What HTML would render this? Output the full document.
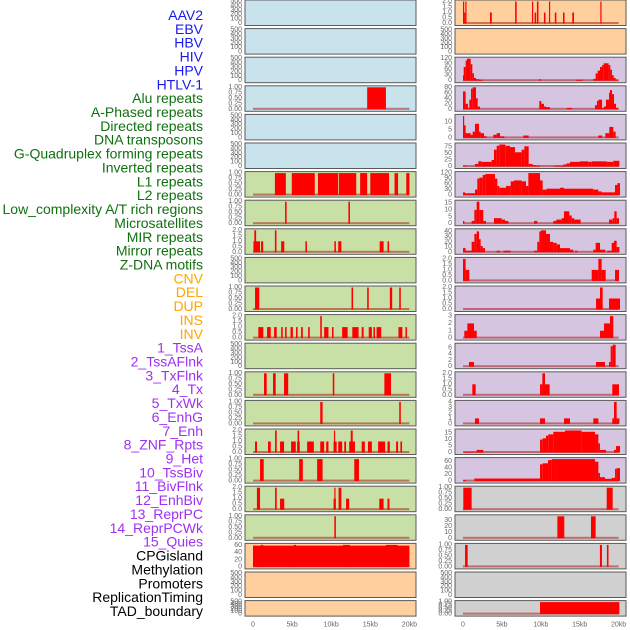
<!DOCTYPE html>
<html><head><meta charset="utf-8">
<style>
html,body{margin:0;padding:0;background:#fff;}
svg{display:block;}
text{font-family:"Liberation Sans",sans-serif;}
</style></head>
<body>
<svg id="chart" width="630" height="630" viewBox="0 0 630 630" xmlns="http://www.w3.org/2000/svg">
<g id="labels"></g>
<g id="panels"></g>
<g id="xaxis"></g>
</svg>
<script>
// ---- label data ----
const trackLabels = ["AAV2","EBV","HBV","HIV","HPV","HTLV-1","Alu repeats","A-Phased repeats","Directed repeats","DNA transposons","G-Quadruplex forming repeats","Inverted repeats","L1 repeats","L2 repeats","Low_complexity A/T rich regions","Microsatellites","MIR repeats","Mirror repeats","Z-DNA motifs","CNV","DEL","DUP","INS","INV","1_TssA","2_TssAFlnk","3_TxFlnk","4_Tx","5_TxWk","6_EnhG","7_Enh","8_ZNF_Rpts","9_Het","10_TssBiv","11_BivFlnk","12_EnhBiv","13_ReprPC","14_ReprPCWk","15_Quies","CPGisland","Methylation","Promoters","ReplicationTiming","TAD_boundary"];
const labelGroups = [6,13,5,15,5];
const groupColors = ["#1a1aee","#107010","#ffa500","#a030f0","#000000"];
const xTickValues = [0,5,10,15,20];
const xTickLabels = ["0","5kb","10kb","15kb","20kb"];

// ---- tick label sets ----
const ticksEmpty = ["0","100","200","300","400","500"];
const ticksUnit = ["0.00","0.25","0.50","0.75","1.00"];
const ticksTwo = ["0.0","0.5","1.0","1.5","2.0"];

// ---- left column data [startKb, endKb, value] ----
const L_alu = [[14.6,17.0,1]];
const L_inverted = [[2.8,4.2,1],[4.96,7.9,1],[8.3,10.9,1],[11.0,13.2,1],[13.7,14.6,1],[15.0,17.4,1],[18.1,18.55,1],[19.6,20.0,1]];
const L_l2 = [[4.1,4.3,1],[12.2,12.4,1]];
const L_microsat = [[0.05,0.9,1],[0.17,0.4,2],[1.03,1.3,1],[2.8,3.0,2],[3.6,4.0,1],[6.7,6.9,1],[10.4,10.6,1],[10.9,11.3,1],[16.2,16.7,1],[17.2,17.4,1]];
const L_cnv = [[0.26,0.8,1],[12.6,12.8,1],[14.6,14.8,1],[17.5,17.8,1],[18.7,18.9,1]];
const L_dup = [[0.68,1.32,1],[1.8,2.27,1],[2.7,3.03,1],[3.6,3.8,1],[4.1,4.3,1],[4.8,5.1,1],[5.5,5.7,1],[6.15,6.37,1],[7.05,7.26,1],[8.6,8.8,2],[9.1,9.65,1],[10.1,10.3,1],[11.4,12.1,1],[12.7,13.5,1],[13.9,14.15,1],[14.8,15.2,1],[15.4,15.6,1],[15.8,16.4,1],[18.6,19.1,1],[19.5,19.7,1]];
const L_tssAFlnk = [[1.41,1.75,1],[2.56,2.9,1],[3.97,4.5,1],[10.2,10.4,1],[16.8,17.65,1]];
const L_txFlnk = [[8.6,8.9,1],[18.7,18.9,1]];
const L_tx = [[0.26,0.51,1],[1.92,2.27,1],[2.82,3.03,2],[3.46,3.97,1],[4.87,5.47,1],[5.64,5.98,1],[5.7,5.9,2],[6.92,7.78,1],[8.6,9.1,1],[9.36,9.65,1],[10.3,10.7,1],[10.35,10.5,2],[10.9,11.4,1],[11.67,11.9,1],[12.3,13.04,1],[12.5,12.75,2],[13.9,14.3,1],[14.7,15.2,1],[16.0,16.9,1],[17.2,17.5,1],[18.3,18.55,1],[18.85,19.06,1]];
const L_txWk = [[0.9,1.37,1],[5.9,6.37,1],[8.2,8.9,1],[12.95,13.55,1]];
const L_enhG = [[0.5,0.9,2],[2.82,3.03,2],[3.46,4.0,1],[10.3,10.6,1],[10.4,10.55,2],[10.94,11.3,2],[11.9,12.3,1],[16.15,16.7,1],[17.2,17.45,1]];
const L_enh = [[10.4,10.6,1]];
const L_cpg = [[0,20,60],[1.0,1.3,62],[5.2,5.5,62],[11.5,12.4,62],[17.0,18.5,62]];

// ---- right column data ----
const R_aav2 = [[0,0.15,2],[0.15,0.3,1],[0.3,0.4,2],[3.47,3.7,1],[6.7,6.9,2],[8.87,9.0,2],[9.2,9.4,1],[9.5,9.7,2],[10.4,10.6,1],[11.05,11.2,2],[11.8,12.0,1],[12.85,13.05,1],[14.05,14.27,1],[17.65,17.8,2]];
const R_hiv = [[0,0.09,30],[0.09,0.34,75],[0.34,0.51,110],[0.51,0.99,120],[0.99,1.2,90],[1.2,1.41,40],[1.41,1.67,15],[1.67,2.1,8],[2.1,2.53,5],[9.81,10.07,8],[14.52,15.38,5],[16.75,17.05,10],[17.05,17.31,40],[17.31,17.61,55],[17.61,17.87,75],[17.87,18.08,85],[18.08,18.72,95],[18.72,18.94,85],[18.94,19.15,60],[19.15,19.37,30],[19.37,19.62,15],[19.62,19.97,5]];
const R_alu = [[0,0.34,65],[0.34,0.64,20],[0.64,0.81,5],[0.81,1.03,35],[1.03,1.24,75],[1.24,1.67,80],[1.67,1.89,40],[1.89,2.19,10],[9.81,10.07,30],[10.07,10.41,20],[10.41,10.67,10],[10.67,11.18,8],[13.33,14.01,5],[16.97,17.22,15],[17.22,17.4,30],[17.4,17.87,35],[17.87,18.12,5],[18.12,18.38,10],[18.38,18.77,35],[18.77,18.89,60],[18.89,19.15,70],[19.15,19.41,55],[19.41,19.67,20],[19.67,19.97,5]];
const R_directed = [[0,0.09,14],[0.09,0.34,8],[0.34,0.99,3],[0.99,1.24,2],[1.24,1.54,4],[1.54,2.06,9],[2.06,2.27,4],[2.27,2.7,3],[2.7,3.04,1],[3.9,4.33,2],[4.33,4.76,3],[4.76,5.31,1],[7.75,8.44,1.5],[17.4,17.87,1.5],[18.3,18.81,3],[18.81,19.32,7],[19.32,19.62,4]];
const R_gquad = [[0,0.4,3],[1.54,1.97,10],[1.97,2.4,20],[2.4,3.68,18],[3.68,3.98,25],[3.98,4.33,65],[4.33,4.67,80],[4.67,5.44,85],[5.44,6.04,80],[6.04,6.68,75],[6.68,7.54,55],[7.54,7.88,65],[7.88,8.44,78],[8.44,8.95,10],[8.95,9.38,5],[9.38,9.9,3],[11.74,12.9,3],[12.9,13.33,8],[13.33,13.75,12],[13.75,15.04,18],[15.04,16.11,20],[16.11,16.54,18],[16.54,18.47,20],[18.47,19.32,18],[19.32,20.1,22]];
const R_l1 = [[0,0.26,15],[0.26,1.54,10],[1.54,1.84,30],[1.84,2.1,90],[2.1,2.53,95],[2.53,2.87,110],[2.87,4.11,115],[4.11,4.41,90],[4.41,4.67,50],[4.67,5.53,40],[5.53,6.13,50],[6.13,6.56,75],[6.56,7.54,80],[7.54,8.1,75],[8.1,8.4,50],[8.4,9.9,120],[9.9,10.24,80],[10.24,10.75,30],[10.75,12.47,35],[12.47,12.98,40],[12.98,16.75,35],[16.75,17.4,30],[17.4,17.82,20],[17.82,19.54,15],[19.54,19.84,55],[19.84,20.18,65]];
const R_l2 = [[0,0.17,2],[1.11,1.46,2],[1.46,1.76,10],[1.76,2.1,16],[2.1,2.61,10],[2.61,2.96,2],[3.98,4.97,4],[4.97,5.4,3],[5.4,5.83,2],[9.13,9.55,2],[11.61,12.0,2],[12.0,12.68,3],[12.68,12.98,4],[12.98,13.67,9],[13.67,13.97,6],[13.97,14.27,4],[14.27,15.12,3],[18.77,19.24,3],[19.24,19.45,4],[19.45,19.75,9],[19.75,20.05,4]];
const R_mir = [[0,0.34,8],[0.34,1.11,3],[1.11,1.46,20],[1.46,1.76,35],[1.76,2.06,40],[2.06,2.27,25],[2.27,2.53,12],[2.53,2.83,8],[4.33,4.76,3],[5.18,6.13,3],[9.13,9.55,3],[9.55,9.81,20],[9.81,10.03,40],[10.03,10.67,45],[10.67,11.18,35],[11.18,11.61,20],[11.61,12.04,18],[12.04,12.47,15],[12.47,13.75,8],[13.75,14.18,5],[14.4,14.7,3],[16.75,17.05,5],[17.05,17.61,18],[17.61,18.3,5],[18.55,19.11,3],[19.11,19.41,18],[19.41,19.75,22],[19.75,20.1,10]];
const R_zdna = [[0,0.34,2],[0.34,0.81,1],[16.54,17.4,1],[17.4,17.82,2],[17.82,18.34,1],[19.54,20.05,1]];
const R_del = [[17.1,17.61,1],[17.61,17.95,2],[18.77,20.18,1]];
const R_ins = [[0.17,0.56,1],[0.56,1.41,2],[1.41,1.76,1],[17.61,18.12,1],[18.12,18.89,2],[18.89,19.32,3]];
const R_inv = [[0.77,1.41,1.5],[17.1,18.25,1.5],[18.77,18.98,1.5],[18.98,19.24,6.5],[19.24,19.62,7]];
const R_tssAFlnk = [[1.2,1.63,1],[9.9,10.2,1],[10.2,10.54,2],[10.54,11.14,1],[19.19,20.05,1]];
const R_tx = [[1.54,2.06,1],[9.9,10.54,1],[12.98,13.75,1],[16.75,17.4,1],[19.19,19.41,1],[19.41,19.75,4],[19.75,20.1,1]];
const R_enh = [[0.04,1.76,0.5],[1.76,2.61,2],[9.9,10.24,10],[10.24,10.67,11],[10.67,10.97,13],[10.97,11.61,14],[11.61,13.11,16],[13.11,15.25,17],[15.25,16.97,16],[16.97,17.4,14],[17.4,17.61,7],[17.61,18.38,2],[19.41,19.67,2],[19.67,20.18,5]];
const R_het = [[0,0.4,3],[1.46,9.9,8],[9.9,10.24,52],[10.24,10.93,55],[10.93,11.4,65],[11.4,11.83,70],[11.83,16.97,68],[16.97,17.4,60],[17.4,17.61,25],[17.61,18.25,12],[18.25,19.11,7],[19.11,19.54,10],[19.54,19.75,38],[19.75,20.18,40]];
const R_tssBiv = [[0.04,1.11,1],[18.47,19.24,1]];
const R_enhBiv = [[12.13,13.02,37],[16.45,17.05,37]];
const R_cpg = [[0.26,0.6,1],[17.6,17.86,1],[18.5,18.7,1]];
const R_tad = [[9.9,20.1,1]];

// ---- panel definitions (col 0 = left, 1 = right) ----
const BG = {blue:"#c8e3ec", green:"#c8e0a5", peach:"#ffd09e", lav:"#d5c5e1", gray:"#d0d0d0"};
const panels = [
 [0,0,"blue",500,ticksEmpty,[]],[1,0,"peach",2,ticksTwo,R_aav2],
 [0,1,"blue",500,ticksEmpty,[]],[1,1,"peach",500,ticksEmpty,[]],
 [0,2,"blue",500,ticksEmpty,[]],[1,2,"lav",120,["0","30","60","90","120"],R_hiv],
 [0,3,"blue",1,ticksUnit,L_alu],[1,3,"lav",80,["0","20","40","60","80"],R_alu],
 [0,4,"blue",500,ticksEmpty,[]],[1,4,"lav",14,["0","5","10"],R_directed],
 [0,5,"blue",500,ticksEmpty,[]],[1,5,"lav",85,["0","25","50","75"],R_gquad],
 [0,6,"green",1,ticksUnit,L_inverted],[1,6,"lav",120,["0","30","60","90","120"],R_l1],
 [0,7,"green",1,ticksUnit,L_l2],[1,7,"lav",16,["0","5","10","15"],R_l2],
 [0,8,"green",2,ticksTwo,L_microsat],[1,8,"lav",42,["0","10","20","30","40"],R_mir],
 [0,9,"green",500,ticksEmpty,[]],[1,9,"lav",2,ticksTwo,R_zdna],
 [0,10,"green",1,ticksUnit,L_cnv],[1,10,"lav",2,ticksTwo,R_del],
 [0,11,"green",2,ticksTwo,L_dup],[1,11,"lav",3,["0","1","2","3"],R_ins],
 [0,12,"green",500,ticksEmpty,[]],[1,12,"lav",7,["0","2","4","6"],R_inv],
 [0,13,"green",1,ticksUnit,L_tssAFlnk],[1,13,"lav",2,ticksTwo,R_tssAFlnk],
 [0,14,"green",1,ticksUnit,L_txFlnk],[1,14,"lav",4,["0","1","2","3","4"],R_tx],
 [0,15,"green",2,ticksTwo,L_tx],[1,15,"lav",17,["0","5","10","15"],R_enh],
 [0,16,"green",1,ticksUnit,L_txWk],[1,16,"lav",68,["0","20","40","60"],R_het],
 [0,17,"green",2,ticksTwo,L_enhG],[1,17,"gray",1,ticksUnit,R_tssBiv],
 [0,18,"green",1,ticksUnit,L_enh],[1,18,"gray",37,["0","10","20","30"],R_enhBiv],
 [0,19,"peach",62,["0","20","40","60"],L_cpg],[1,19,"gray",1,ticksUnit,R_cpg],
 [0,20,"peach",500,ticksEmpty,[]],[1,20,"gray",500,ticksEmpty,[]],
 [0,21,"peach",500,ticksEmpty,[]],[1,21,"gray",1,ticksUnit,R_tad]
];

const NS = "http://www.w3.org/2000/svg";
function mk(tag, attrs, parent){
  const e = document.createElementNS(NS, tag);
  for (const k in attrs) e.setAttribute(k, attrs[k]);
  parent.appendChild(e);
  return e;
}
const colX = [{left:245,right:416,x0:253,k:7.82},{left:455,right:626,x0:463,k:7.78}];
function xScale(col, kb){ return colX[col].x0 + kb*colX[col].k; }
function rowTop(r){ return r*28.6; }
function rowH(r){ return r===21 ? 15.5 : 25.5; }

// labels
const lg = document.getElementById('labels');
let gi = 0, cnt = 0;
trackLabels.forEach((t,i)=>{
  while (cnt >= labelGroups[gi]) { cnt -= labelGroups[gi]; gi++; }
  cnt++;
  const el = mk('text',{x:203,y:15+i*13.86,'text-anchor':'end','dominant-baseline':'central','font-size':'14',fill:groupColors[gi]},lg);
  
  
  el.textContent = t;
});

// panels
const pg = document.getElementById('panels');
panels.forEach(p=>{
  const [col,row,bg,ymax,ticks,data] = p;
  const c = colX[col], T = rowTop(row), H = rowH(row);
  const yTop = T+1.5, yBot = T+H-2;
  const yS = v => yBot - (Math.min(v,ymax)/ymax)*(yBot-yTop);
  const g = mk('g',{},pg);
  
  
  const r = mk('rect',{x:c.left,y:T,width:c.right-c.left,height:H,fill:BG[bg],stroke:'#5a5a5a','stroke-width':1},g);
  
  
  // ticks
  const n = ticks.length;
  const tickMax = (ticks===ticksEmpty)?500:(ticks===ticksUnit?1:(ticks===ticksTwo?2:parseFloat(ticks[n-1])));
  ticks.forEach((t)=>{
    const v = parseFloat(t);
    const yy = yBot - (v/ymax)*(yBot-yTop);
    const te = mk('text',{x:c.left-3,y:yy,'text-anchor':'end','dominant-baseline':'central','font-size':'7',fill:'#666'},g);
    
    
    te.textContent = t;
  });
  // baseline
  if (data.length) {
    const bl = mk('rect',{x:xScale(col,0),y:yBot-1.5,width:xScale(col,20)-xScale(col,0),height:2,fill:'rgba(170,30,30,0.55)'},g);
    
    
  }
  data.forEach(d=>{
    const x1 = xScale(col,d[0]), x2 = xScale(col,d[1]), y1 = yS(d[2]);
    const b = mk('rect',{x:x1,y:y1,width:Math.max(1.2,x2-x1),height:yBot-y1,fill:'#ff0000'},g);
    
    
  });
});

// x axes
const xg = document.getElementById('xaxis');
[0,1].forEach(col=>{
  xTickValues.forEach((v,i)=>{
    const t = mk('text',{x:xScale(col,v),y:625,'text-anchor':'middle','dominant-baseline':'central','font-size':'7',fill:'#666'},xg);
    
    
    t.textContent = xTickLabels[i];
  });
});
</script>
</body></html>
